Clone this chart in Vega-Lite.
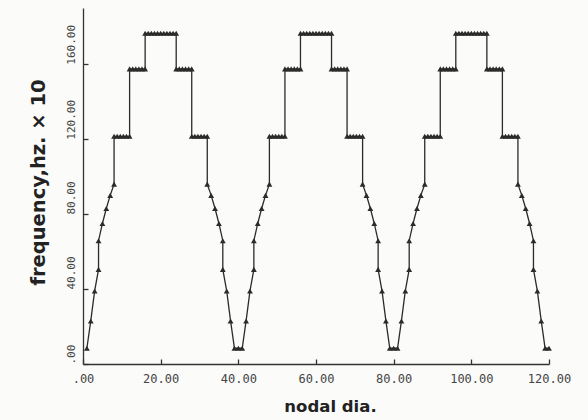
{
  "$schema": "https://vega.github.io/schema/vega-lite/v6.json",
  "width": 466,
  "height": 356,
  "autosize": {"type": "none"},
  "padding": {"left": 83, "top": 8, "right": 39, "bottom": 56},
  "background": "#fbfbfa",
  "config": {
    "view": {"stroke": null},
    "axis": {"grid": false, "domainColor": "#333", "tickColor": "#333", "domainWidth": 1.3, "tickWidth": 1.3}
  },
  "data": {"values": [
    {"x":1,"y":8.4},{"x":2,"y":23},{"x":3,"y":39},{"x":4,"y":50.5},{"x":4,"y":65.8},{"x":5,"y":75},{"x":6,"y":83},{"x":7,"y":90},{"x":8,"y":96},
    {"x":8,"y":121.5},{"x":8.8,"y":121.5},{"x":9.6,"y":121.5},{"x":10.4,"y":121.5},{"x":11.2,"y":121.5},{"x":12,"y":121.5},
    {"x":12,"y":157.5},{"x":12.8,"y":157.5},{"x":13.6,"y":157.5},{"x":14.4,"y":157.5},{"x":15.2,"y":157.5},{"x":16,"y":157.5},
    {"x":16,"y":176.5},{"x":16.8,"y":176.5},{"x":17.6,"y":176.5},{"x":18.4,"y":176.5},{"x":19.2,"y":176.5},{"x":20,"y":176.5},{"x":20.8,"y":176.5},{"x":21.6,"y":176.5},{"x":22.4,"y":176.5},{"x":23.2,"y":176.5},{"x":24,"y":176.5},
    {"x":24,"y":157.5},{"x":24.8,"y":157.5},{"x":25.6,"y":157.5},{"x":26.4,"y":157.5},{"x":27.2,"y":157.5},{"x":28,"y":157.5},
    {"x":28,"y":121.5},{"x":28.8,"y":121.5},{"x":29.6,"y":121.5},{"x":30.4,"y":121.5},{"x":31.2,"y":121.5},{"x":32,"y":121.5},
    {"x":32,"y":96},{"x":33,"y":90},{"x":34,"y":83},{"x":35,"y":75},{"x":36,"y":65.8},{"x":36,"y":50.5},{"x":37,"y":39},{"x":38,"y":23},{"x":39,"y":8.4},{"x":40,"y":8.4},

    {"x":41,"y":8.4},{"x":42,"y":23},{"x":43,"y":39},{"x":44,"y":50.5},{"x":44,"y":65.8},{"x":45,"y":75},{"x":46,"y":83},{"x":47,"y":90},{"x":48,"y":96},
    {"x":48,"y":121.5},{"x":48.8,"y":121.5},{"x":49.6,"y":121.5},{"x":50.4,"y":121.5},{"x":51.2,"y":121.5},{"x":52,"y":121.5},
    {"x":52,"y":157.5},{"x":52.8,"y":157.5},{"x":53.6,"y":157.5},{"x":54.4,"y":157.5},{"x":55.2,"y":157.5},{"x":56,"y":157.5},
    {"x":56,"y":176.5},{"x":56.8,"y":176.5},{"x":57.6,"y":176.5},{"x":58.4,"y":176.5},{"x":59.2,"y":176.5},{"x":60,"y":176.5},{"x":60.8,"y":176.5},{"x":61.6,"y":176.5},{"x":62.4,"y":176.5},{"x":63.2,"y":176.5},{"x":64,"y":176.5},
    {"x":64,"y":157.5},{"x":64.8,"y":157.5},{"x":65.6,"y":157.5},{"x":66.4,"y":157.5},{"x":67.2,"y":157.5},{"x":68,"y":157.5},
    {"x":68,"y":121.5},{"x":68.8,"y":121.5},{"x":69.6,"y":121.5},{"x":70.4,"y":121.5},{"x":71.2,"y":121.5},{"x":72,"y":121.5},
    {"x":72,"y":96},{"x":73,"y":90},{"x":74,"y":83},{"x":75,"y":75},{"x":76,"y":65.8},{"x":76,"y":50.5},{"x":77,"y":39},{"x":78,"y":23},{"x":79,"y":8.4},{"x":80,"y":8.4},

    {"x":81,"y":8.4},{"x":82,"y":23},{"x":83,"y":39},{"x":84,"y":50.5},{"x":84,"y":65.8},{"x":85,"y":75},{"x":86,"y":83},{"x":87,"y":90},{"x":88,"y":96},
    {"x":88,"y":121.5},{"x":88.8,"y":121.5},{"x":89.6,"y":121.5},{"x":90.4,"y":121.5},{"x":91.2,"y":121.5},{"x":92,"y":121.5},
    {"x":92,"y":157.5},{"x":92.8,"y":157.5},{"x":93.6,"y":157.5},{"x":94.4,"y":157.5},{"x":95.2,"y":157.5},{"x":96,"y":157.5},
    {"x":96,"y":176.5},{"x":96.8,"y":176.5},{"x":97.6,"y":176.5},{"x":98.4,"y":176.5},{"x":99.2,"y":176.5},{"x":100,"y":176.5},{"x":100.8,"y":176.5},{"x":101.6,"y":176.5},{"x":102.4,"y":176.5},{"x":103.2,"y":176.5},{"x":104,"y":176.5},
    {"x":104,"y":157.5},{"x":104.8,"y":157.5},{"x":105.6,"y":157.5},{"x":106.4,"y":157.5},{"x":107.2,"y":157.5},{"x":108,"y":157.5},
    {"x":108,"y":121.5},{"x":108.8,"y":121.5},{"x":109.6,"y":121.5},{"x":110.4,"y":121.5},{"x":111.2,"y":121.5},{"x":112,"y":121.5},
    {"x":112,"y":96},{"x":113,"y":90},{"x":114,"y":83},{"x":115,"y":75},{"x":116,"y":65.8},{"x":116,"y":50.5},{"x":117,"y":39},{"x":118,"y":23},{"x":119,"y":8.4},{"x":120,"y":8.4}
  ]},
  "mark": {
    "type": "line",
    "color": "#2b2b2b",
    "strokeWidth": 1.3,
    "point": {"shape": "triangle-up", "filled": true, "size": 34, "color": "#2b2b2b"}
  },
  "encoding": {
    "x": {
      "field": "x", "type": "quantitative",
      "scale": {"domain": [0, 120], "nice": false, "zero": false},
      "axis": {
        "values": [0, 20, 40, 60, 80, 100, 120],
        "labelExpr": "datum.value == 0 ? '.00' : format(datum.value, '.2f')",
        "title": "nodal dia.",
        "tickSize": -5,
        "labelPadding": 14,
        "labelFont": "DejaVu Sans Mono",
        "labelFontSize": 12,
        "labelColor": "#444",
        "labelFlush": false,
        "labelOverlap": false,
        "titleFont": "DejaVu Sans",
        "titleFontWeight": "bold",
        "titleFontSize": 16.5,
        "titleColor": "#222",
        "titleX": 247,
        "titleY": 42,
        "titleAlign": "center",
        "titleBaseline": "middle"
      }
    },
    "y": {
      "field": "y", "type": "quantitative",
      "scale": {"domain": [0, 190], "nice": false, "zero": false},
      "axis": {
        "values": [0, 40, 80, 120, 160],
        "labelExpr": "datum.value == 0 ? '.00' : format(datum.value, '.2f')",
        "title": "frequency,hz. × 10",
        "tickSize": -5,
        "labelPadding": 12,
        "labelAngle": 270,
        "labelAlign": "left",
        "labelBaseline": "bottom",
        "labelFont": "DejaVu Sans Mono",
        "labelFontSize": 11,
        "labelColor": "#444",
        "labelFlush": false,
        "labelOverlap": false,
        "titleFont": "DejaVu Sans",
        "titleFontWeight": "bold",
        "titleFontSize": 19.5,
        "titleColor": "#222",
        "titleAngle": 270,
        "titleX": -45,
        "titleY": 174,
        "titleAlign": "center",
        "titleBaseline": "middle"
      }
    },
    "order": {"value": null}
  }
}
